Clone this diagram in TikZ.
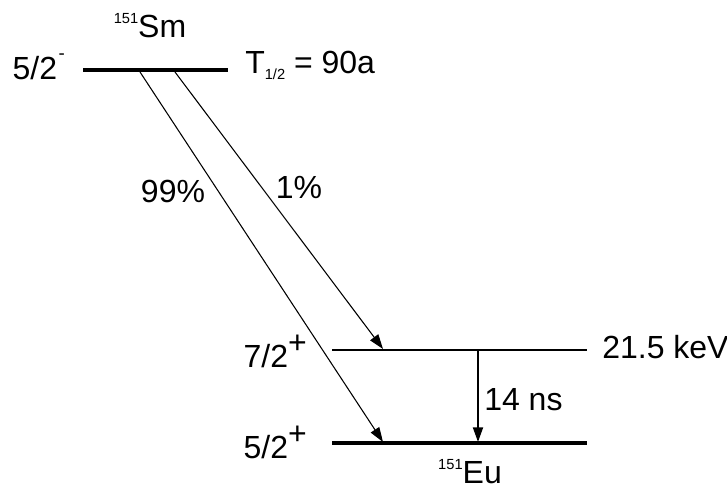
\documentclass[tikz,border=0pt]{standalone}
\usepackage{fontspec}
\setmainfont{Liberation Sans}
\usetikzlibrary{arrows.meta}
\newcommand{\nucl}[2]{\raisebox{10.5pt}{\fontsize{11}{11}\selectfont #1}#2}
\newcommand{\halfsub}{\raisebox{-5pt}{\fontsize{11}{11}\selectfont 1/2}}
\newcommand{\parplus}{\raisebox{10.5pt}{+}}
\newcommand{\parminus}{\kern1pt\raisebox{15pt}{\fontsize{14}{14}\selectfont -}}

\begin{document}
\begin{tikzpicture}[x=0.75pt, y=-0.75pt,
        lbl/.style={font=\fontsize{24}{28}\selectfont, inner sep=0pt},
        level/.style={line width=3pt},
        sublevel/.style={line width=1.1pt},
        trans/.style={-{Triangle[length=11pt, width=7.5pt]}, line width=0.8pt},
        gamma/.style={-{Triangle[length=11pt, width=7.5pt]}, line width=1.4pt}
    ]
    \useasboundingbox (0,0) rectangle (727,489);
    % levels
    \coordinate (smL) at (83,70);
    \coordinate (smR) at (228,70);
    \coordinate (exL) at (332,350);
    \coordinate (exR) at (587,350);
    \coordinate (gsL) at (332,443);
    \coordinate (gsR) at (587,443);
    \draw[level] (smL) -- (smR);
    \draw[sublevel] (exL) -- (exR);
    \draw[level] (gsL) -- (gsR);

    % level labels
    \node[lbl, anchor=base east] (jsm) at (65,79) {5/2\parminus};
    \node[lbl, anchor=base] (sm) at (150,37) {\nucl{151}{Sm}};
    \node[lbl, anchor=base west] (thalf) at (245,73) {T\halfsub{} = 90a};
    \node[lbl, anchor=base east] (jex) at (307,367) {7/2\parplus};
    \node[lbl, anchor=base west] (eex) at (602,358) {21.5 keV};
    \node[lbl, anchor=base east] (jgs) at (307,458) {5/2\parplus};
    \node[lbl, anchor=base] (eu) at (470,483) {\nucl{151}{Eu}};

    % decays
    \coordinate (b99) at (140,72);
    \coordinate (b1) at (175,72);
    \coordinate (e99) at (383,442);
    \coordinate (e1) at (383,349);
    \coordinate (gtop) at (478,351);
    \coordinate (gbot) at (478,442);
    \draw[trans] (b99) -- (e99);
    \draw[trans] (b1) -- (e1);
    \draw[gamma] (gtop) -- (gbot);
    \node[lbl, anchor=base] (p99) at (173,202) {99\%};
    \node[lbl, anchor=base] (p1) at (299,198) {1\%};
    \node[lbl, anchor=base west] (tau) at (484,410) {14 ns};
\end{tikzpicture}
\end{document}
